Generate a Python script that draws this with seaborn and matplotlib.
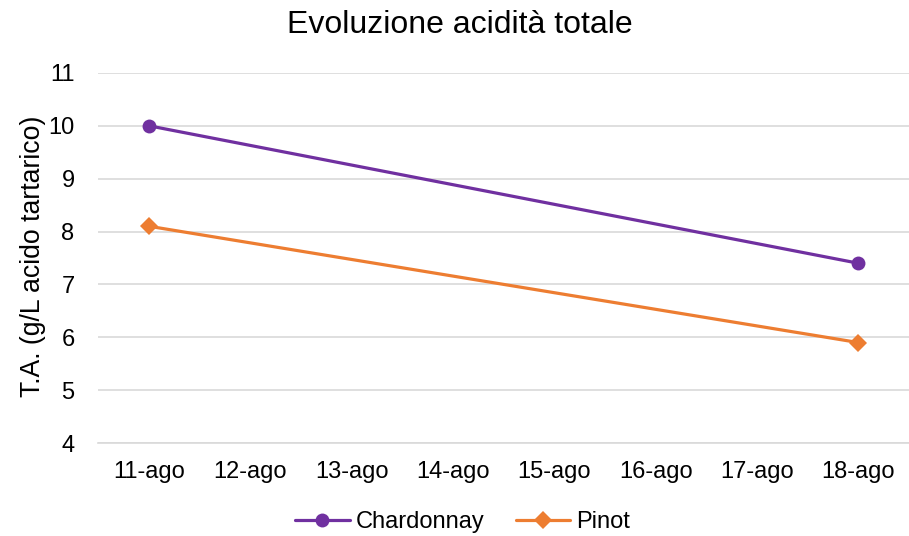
import matplotlib
matplotlib.use("Agg")
import matplotlib.pyplot as plt
import numpy as np
import pandas as pd
import seaborn as sns

# data
dates = ["11-ago", "12-ago", "13-ago", "14-ago", "15-ago", "16-ago", "17-ago", "18-ago"]
sample_dates = ["11-ago", "18-ago"]
chardonnay = [10.0, 7.4]
pinot = [8.1, 5.9]

sns.set_theme(style="white")
plt.rcParams["font.family"] = ["Liberation Sans", "DejaVu Sans"]
plt.rcParams["text.color"] = "#000000"

df = pd.DataFrame({
    "date": sample_dates * 2,
    "ta": chardonnay + pinot,
    "variety": ["Chardonnay"] * len(chardonnay) + ["Pinot"] * len(pinot),
})
df["pos"] = df["date"].map({d: i for i, d in enumerate(dates)})

fig = plt.figure(figsize=(9.09, 5.36), dpi=100)
ax = fig.add_axes([0.108, 0.1735, 0.892, 0.6905])

sns.lineplot(
    data=df, x="pos", y="ta", hue="variety", style="variety",
    markers={"Chardonnay": "o", "Pinot": "D"}, dashes=False,
    palette={"Chardonnay": "#7030A0", "Pinot": "#ED7D31"},
    linewidth=2.3, markersize=10, markeredgewidth=0, ax=ax,
)
# diamond a bit smaller than circle
for line in ax.get_lines():
    if line.get_marker() == "D":
        line.set_markersize(9.5)

ax.set_xlim(-0.5, len(dates) - 0.5)
ax.set_ylim(4, 11)
ax.set_yticks(range(4, 12))
ax.set_xticks(range(len(dates)))
ax.set_xticklabels(dates)
ax.set_xticks(np.arange(-0.5, len(dates), 1.0), minor=True)
ax.tick_params(axis="x", which="major", length=0, pad=13, labelsize=17, colors="#000000")
ax.tick_params(axis="x", which="minor", length=7, width=1.2, color="#D9D9D9")
ax.tick_params(axis="y", length=0, pad=17, labelsize=17, colors="#000000")

ax.grid(axis="y", color="#D9D9D9", linewidth=1.2)
ax.set_axisbelow(True)
for side in ["left", "right", "top"]:
    ax.spines[side].set_visible(False)
ax.spines["bottom"].set_color("#D9D9D9")
ax.spines["bottom"].set_linewidth(1.2)

ax.set_xlabel("")
ax.set_ylabel("T.A. (g/L acido tartarico)", fontsize=19.2, color="#000000")
ax.yaxis.set_label_coords(-0.064, 0.505)
fig.text(0.506, 0.953, "Evoluzione acidità totale", ha="center", va="center",
         fontsize=23, color="#000000")

handles, labels = ax.get_legend_handles_labels()
leg = ax.legend(
    handles, labels, loc="center", bbox_to_anchor=(0.509, 0.026),
    bbox_transform=fig.transFigure, ncol=2, frameon=False, fontsize=17,
    handlelength=2.3, handletextpad=0.25, columnspacing=1.35,
)
for t in leg.get_texts():
    t.set_color("#000000")

fig.savefig("out.png", dpi=100)
